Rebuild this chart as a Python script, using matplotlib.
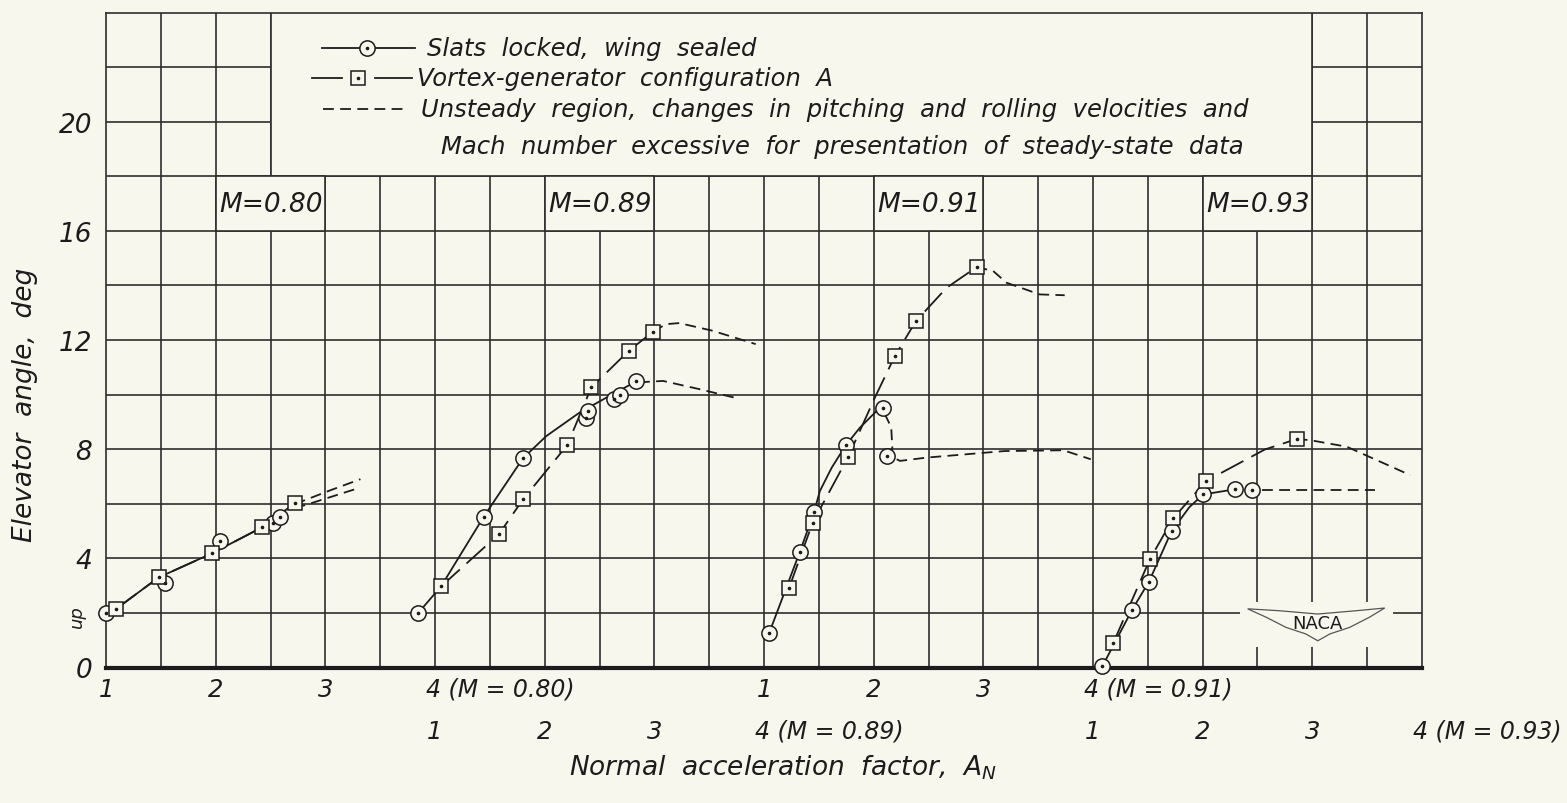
import numpy as np
import matplotlib
matplotlib.use("Agg")
import matplotlib.pyplot as plt
from matplotlib.patches import Rectangle, Polygon
import matplotlib.transforms as mtransforms

# ---------------- data ----------------
mach_numbers = ["0.80", "0.89", "0.91", "0.93"]
an_tick_values = [1, 2, 3, 4]
y_tick_values = [0, 4, 8, 12, 16, 20]

# M = 0.80
m080_circ_an = [1.00, 1.54, 2.04, 2.52, 2.59]
m080_circ_de = [1.99, 3.11, 4.64, 5.28, 5.50]
m080_sq_an = [1.09, 1.48, 1.97, 2.42, 2.72]
m080_sq_de = [2.14, 3.30, 4.19, 5.13, 6.01]
m080_circ_fair_an = [1.00, 1.09, 1.48, 1.97, 2.42, 2.72]
m080_circ_fair_de = [2.00, 2.14, 3.30, 4.19, 5.13, 6.01]
m080_sq_fair_an = [1.09, 1.48, 1.97, 2.42, 2.72]
m080_sq_fair_de = [2.14, 3.30, 4.19, 5.13, 6.01]
m080_circ_unst_an = [2.72, 2.80, 3.05, 3.30]
m080_circ_unst_de = [6.01, 5.93, 6.25, 6.57]
m080_sq_unst_an = [2.72, 2.80, 3.05, 3.32]
m080_sq_unst_de = [6.01, 6.11, 6.50, 6.90]

# M = 0.89
m089_circ_an = [0.843, 1.445, 1.803, 2.373, 2.394, 2.636, 2.688, 2.834]
m089_circ_de = [1.98, 5.53, 7.67, 9.13, 9.40, 9.83, 9.99, 10.48]
m089_sq_an = [1.055, 1.582, 1.803, 2.206, 2.425, 2.766, 2.99]
m089_sq_de = [2.97, 4.88, 6.16, 8.15, 10.26, 11.60, 12.31]
m089_circ_fair_an = [0.843, 1.055, 1.445, 1.803, 2.015, 2.318, 2.59, 2.834]
m089_circ_fair_de = [1.98, 2.97, 5.53, 7.67, 8.48, 9.34, 9.95, 10.48]
m089_sq_fair_an = [1.055, 1.582, 1.803, 2.206, 2.425, 2.766, 2.99]
m089_sq_fair_de = [2.97, 4.88, 6.16, 8.15, 10.26, 11.60, 12.31]
m089_circ_unst_an = [2.86, 3.08, 3.41, 3.76]
m089_circ_unst_de = [10.45, 10.50, 10.20, 9.86]
m089_sq_unst_an = [2.99, 3.106, 3.227, 3.53, 3.924]
m089_sq_unst_de = [12.31, 12.58, 12.62, 12.34, 11.85]

# M = 0.91
m091_circ_an = [1.046, 1.328, 1.455, 1.747, 2.087, 2.118]
m091_circ_de = [1.25, 4.25, 5.68, 8.15, 9.52, 7.75]
m091_sq_an = [1.23, 1.444, 1.768, 2.193, 2.385, 2.938]
m091_sq_de = [2.93, 5.31, 7.72, 11.41, 12.69, 14.67]
m091_circ_fair_an = [1.046, 1.328, 1.455, 1.51, 1.617, 1.747, 1.875, 2.027, 2.087]
m091_circ_fair_de = [1.25, 4.25, 5.68, 6.47, 7.32, 8.15, 8.79, 9.40, 9.52]
m091_sq_fair_an = [1.23, 1.444, 1.768, 2.011, 2.193, 2.385, 2.664, 2.938]
m091_sq_fair_de = [2.93, 5.31, 7.72, 9.89, 11.41, 12.69, 13.91, 14.67]
m091_circ_unst_an = [2.10, 2.16, 2.17, 2.15, 2.24, 2.48, 3.19, 3.73, 3.98]
m091_circ_unst_de = [9.30, 8.80, 8.06, 7.75, 7.57, 7.69, 7.93, 7.96, 7.63]
m091_sq_unst_an = [2.938, 3.089, 3.211, 3.514, 3.742]
m091_sq_unst_de = [14.67, 14.53, 14.10, 13.67, 13.64]

# M = 0.93
m093_circ_an = [1.086, 1.356, 1.511, 1.716, 2.005, 2.294, 2.452]
m093_circ_de = [0.05, 2.11, 3.15, 4.99, 6.34, 6.53, 6.50]
m093_sq_an = [1.183, 1.518, 1.73, 2.03, 2.857]
m093_sq_de = [0.88, 3.96, 5.46, 6.83, 8.37]
m093_circ_fair_an = [1.086, 1.356, 1.511, 1.716, 1.88, 2.005, 2.294]
m093_circ_fair_de = [0.05, 2.11, 3.15, 4.99, 5.88, 6.34, 6.53]
m093_sq_fair_an = [1.183, 1.518, 1.73, 2.03, 2.568, 2.857]
m093_sq_fair_de = [0.88, 3.96, 5.46, 6.83, 7.99, 8.37]
m093_circ_unst_an = [2.54, 3.573]
m093_circ_unst_de = [6.52, 6.52]
m093_sq_unst_an = [2.857, 2.98, 3.314, 3.892]
m093_sq_unst_de = [8.37, 8.33, 8.09, 7.05]

legend_labels = [
    "Slats  locked,  wing  sealed",
    "Vortex-generator  configuration  A",
    "Unsteady  region,  changes  in  pitching  and  rolling  velocities  and",
    "Mach  number  excessive  for  presentation  of  steady-state  data",
]

# ---------------- layout / style ----------------
panel_shift = [0, 3, 6, 9]          # each Mach panel's A_N scale is shifted along the shared axis
tick_row = [0, 1, 0, 1]             # which label row each panel's scale uses
BG = "#f8f7ee"
INK = "#1c1c1c"
GRID = "#2e2e2e"
FAM = "DejaVu Sans"

panels = [
    (m080_circ_an, m080_circ_de, m080_sq_an, m080_sq_de, m080_circ_fair_an, m080_circ_fair_de,
     m080_sq_fair_an, m080_sq_fair_de, [(m080_circ_unst_an, m080_circ_unst_de), (m080_sq_unst_an, m080_sq_unst_de)]),
    (m089_circ_an, m089_circ_de, m089_sq_an, m089_sq_de, m089_circ_fair_an, m089_circ_fair_de,
     m089_sq_fair_an, m089_sq_fair_de, [(m089_circ_unst_an, m089_circ_unst_de), (m089_sq_unst_an, m089_sq_unst_de)]),
    (m091_circ_an, m091_circ_de, m091_sq_an, m091_sq_de, m091_circ_fair_an, m091_circ_fair_de,
     m091_sq_fair_an, m091_sq_fair_de, [(m091_circ_unst_an, m091_circ_unst_de), (m091_sq_unst_an, m091_sq_unst_de)]),
    (m093_circ_an, m093_circ_de, m093_sq_an, m093_sq_de, m093_circ_fair_an, m093_circ_fair_de,
     m093_sq_fair_an, m093_sq_fair_de, [(m093_circ_unst_an, m093_circ_unst_de), (m093_sq_unst_an, m093_sq_unst_de)]),
]

plt.rcParams['font.family'] = [FAM]
plt.rcParams['mathtext.fontset'] = 'dejavusans'

W, H = 1567, 804
fig = plt.figure(figsize=(W / 100, H / 100), dpi=100, facecolor=BG)
ax = fig.add_axes([106 / W, 1 - 668.5 / H, 1316 / W, 655 / H])
ax.set_facecolor(BG)
ax.set_xlim(1, 13)
ax.set_ylim(0, 24)

# grid
ax.vlines(np.arange(1.5, 13, 0.5), 0, 24, color=GRID, lw=1.2, zorder=1)
ax.hlines(np.arange(2, 24, 2), 1, 13, color=GRID, lw=1.2, zorder=1)

# legend area covers the grid
ax.add_patch(Rectangle((2.5, 18), 9.5, 6.5, facecolor=BG, edgecolor=GRID, lw=1.2, zorder=1.5))

# Mach labels in boxes
for m, sh in zip(mach_numbers, panel_shift):
    ax.add_patch(Rectangle((sh + 2, 16), 1, 2, facecolor=BG, edgecolor=GRID, lw=1.2, zorder=1.5))
    ax.text(sh + 2.03, 17.0, f"M={m}", fontsize=19, style='italic', color=INK,
            ha='left', va='center', zorder=2)

# data
unst_kw = dict(color=INK, lw=1.3, dashes=(6, 3.5), zorder=3)
for (c_an, c_de, s_an, s_de, cf_an, cf_de, sf_an, sf_de, unst), sh in zip(panels, panel_shift):
    ax.plot(np.array(sf_an) + sh, sf_de, color=INK, lw=1.3, dashes=(14, 5), zorder=3)
    ax.plot(np.array(cf_an) + sh, cf_de, color=INK, lw=1.3, zorder=3)
    for u_an, u_de in unst:
        ax.plot(np.array(u_an) + sh, u_de, **unst_kw)
    ax.plot(np.array(c_an) + sh, c_de, ls='none', marker='o', ms=11, mfc=BG, mec=INK, mew=1.1,
            zorder=4, clip_on=False)
    ax.plot(np.array(s_an) + sh, s_de, ls='none', marker='s', ms=9.5, mfc=BG, mec=INK, mew=1.1,
            zorder=5, clip_on=False)
    ax.plot(np.array(c_an) + sh, c_de, ls='none', marker='o', ms=1.6, color=INK, zorder=6, clip_on=False)
    ax.plot(np.array(s_an) + sh, s_de, ls='none', marker='o', ms=1.6, color=INK, zorder=6, clip_on=False)

# legend glyphs and text
ly = [22.70, 21.60, 20.46, 19.12]
ax.plot([2.966, 3.817], [ly[0], ly[0]], color=INK, lw=1.3, zorder=3)
ax.plot([3.377], [ly[0]], marker='o', ms=11, mfc=BG, mec=INK, mew=1.1, zorder=4)
ax.plot([3.377], [ly[0]], marker='o', ms=1.6, color=INK, zorder=6)
ax.plot([2.875, 3.149], [ly[1], ly[1]], color=INK, lw=1.3, zorder=3)
ax.plot([3.452, 3.787], [ly[1], ly[1]], color=INK, lw=1.3, zorder=3)
ax.plot([3.297], [ly[1]], marker='s', ms=9.5, mfc=BG, mec=INK, mew=1.1, zorder=4)
ax.plot([3.297], [ly[1]], marker='o', ms=1.6, color=INK, zorder=6)
ax.plot([2.978, 3.741], [ly[2], ly[2]], color=INK, lw=1.3, dashes=(6, 3.5), zorder=3)
lx = [3.926, 3.832, 3.869, 4.051]
for x, y, t in zip(lx, ly, legend_labels):
    ax.text(x, y, t, fontsize=17.5, style='italic', color=INK, ha='left', va='center', zorder=4)

# NACA emblem
ax.add_patch(Rectangle((11.34, 0.74), 1.40, 1.66, facecolor=BG, edgecolor='none', zorder=1.6))
wing = [(11.41, 2.15), (11.70, 2.08), (12.05, 1.96), (12.40, 2.08), (12.66, 2.18),
        (12.52, 1.84), (12.34, 1.47), (12.16, 1.23), (12.05, 0.98),
        (11.94, 1.23), (11.76, 1.47), (11.58, 1.84)]
ax.add_patch(Polygon(wing, closed=True, facecolor=BG, edgecolor='#555555', lw=0.9, zorder=1.7))
ax.text(12.05, 1.62, "NACA", fontsize=13, color=INK, ha='center', va='center', zorder=1.8)

# axes styling
for s in ['left', 'right', 'top']:
    ax.spines[s].set_color(GRID)
    ax.spines[s].set_linewidth(1.2)
    ax.spines[s].set_zorder(2.5)
ax.spines['bottom'].set_color(INK)
ax.spines['bottom'].set_linewidth(3.0)
ax.spines['bottom'].set_zorder(2.5)
ax.set_xticks([])
ax.set_yticks(y_tick_values)
ax.set_yticklabels([str(v) for v in y_tick_values], fontsize=19, style='italic', color=INK)
ax.tick_params(axis='y', length=0, pad=10)

# two-row x tick labels
xt = ax.get_xaxis_transform()
row_y = [-(690 - 668.5) / 655, -(732 - 668.5) / 655]
for m, sh, row in zip(mach_numbers, panel_shift, tick_row):
    for v in an_tick_values:
        if v == an_tick_values[-1]:
            tr = mtransforms.offset_copy(xt, fig=fig, x=-6.5, y=0, units='points')
            ax.text(v + sh, row_y[row], f"{v} (M = {m})", transform=tr, fontsize=17,
                    style='italic', color=INK, ha='left', va='center', clip_on=False)
        else:
            ax.text(v + sh, row_y[row], f"{v}", transform=xt, fontsize=17.5,
                    style='italic', color=INK, ha='center', va='center', clip_on=False)

fig.text(25 / W, 1 - 405 / H, "Elevator  angle,  deg", rotation=90, fontsize=19,
         style='italic', color=INK, ha='center', va='center')
fig.text(77 / W, 1 - 617 / H, "up", rotation=90, fontsize=13,
         style='italic', color=INK, ha='center', va='center')
fig.text(783 / W, 1 - 768 / H, r"Normal  acceleration  factor,  $A_N$", fontsize=19,
         style='italic', color=INK, ha='center', va='center')

fig.savefig("out.png", dpi=100, facecolor=BG)
